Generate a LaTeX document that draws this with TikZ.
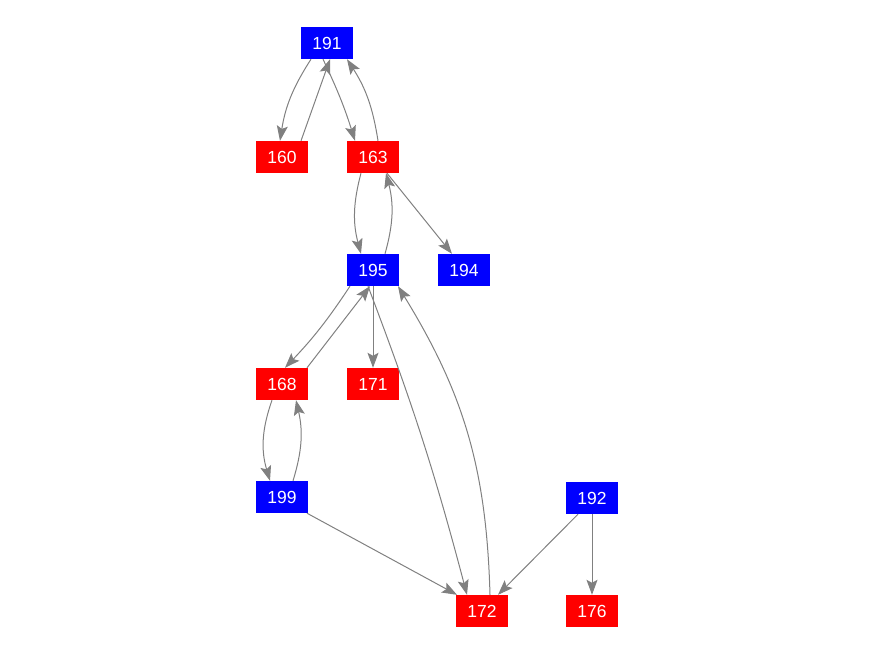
\documentclass[tikz,border=0pt]{standalone}
\usepackage{fontspec}
\setmainfont{Liberation Sans}
\usetikzlibrary{arrows.meta}
\definecolor{nblue}{RGB}{0,0,255}
\definecolor{nred}{RGB}{255,0,0}
\definecolor{egray}{RGB}{128,128,128}
\tikzset{
  vbox/.style={rectangle, minimum width=52pt, minimum height=32pt, inner sep=0pt, text=white, font=\fontsize{17.5}{17.5}\selectfont},
  bluebox/.style={vbox, fill=nblue},
  redbox/.style={vbox, fill=nred},
  edge/.style={draw=egray, line width=1pt, arrows={-Stealth[length=15pt, width=11pt, inset=3pt]}}
}
\begin{document}
\begin{tikzpicture}[x=1pt,y=-1pt]
\useasboundingbox (0,0) rectangle (876,656);
\node[bluebox] (n191) at (327,43) {191};
\node[redbox]  (n160) at (282,157) {160};
\node[redbox]  (n163) at (373,157) {163};
\node[bluebox] (n195) at (373,270) {195};
\node[bluebox] (n194) at (464,270) {194};
\node[redbox]  (n168) at (282,384) {168};
\node[redbox]  (n171) at (373,384) {171};
\node[bluebox] (n199) at (282,497) {199};
\node[bluebox] (n192) at (592,498) {192};
\node[redbox]  (n172) at (482,611) {172};
\node[redbox]  (n176) at (592,611) {176};

\draw[edge] ([xshift=-16pt]n191.south) to[bend right=12] ([xshift=-2pt]n160.north);
\draw[edge] ([xshift=19pt]n160.north) -- ([xshift=3pt]n191.south);
\draw[edge] ([xshift=-4pt]n191.south) to[bend left=4] ([xshift=-18pt]n163.north);
\draw[edge] ([xshift=5pt]n163.north) to[bend right=12] ([xshift=20pt]n191.south);
\draw[edge] ([xshift=-12pt]n163.south) to[bend right=15] ([xshift=-12pt]n195.north);
\draw[edge] ([xshift=12pt]n195.north) to[bend right=15] ([xshift=13pt]n163.south);
\draw[edge] ([xshift=14pt]n163.south) -- ([xshift=-12pt]n194.north);
\draw[edge] ([xshift=-23pt]n195.south) to[bend left=5] ([xshift=3pt]n168.north);
\draw[edge] ([xshift=25pt]n168.north) -- ([xshift=-3pt]n195.south);
\draw[edge] (n195.south) -- (n171.north);
\draw[edge] ([xshift=-5pt]n195.south) to[bend left=3] ([xshift=-15pt]n172.north);
\draw[edge] ([xshift=8pt]n172.north) to[bend right=15] ([xshift=25pt]n195.south);
\draw[edge] ([xshift=-10pt]n168.south) to[bend right=18] ([xshift=-12pt]n199.north);
\draw[edge] ([xshift=11pt]n199.north) to[bend right=15] ([xshift=14pt]n168.south);
\draw[edge] ([xshift=25pt]n199.south) -- ([xshift=-25pt]n172.north);
\draw[edge] ([xshift=-14pt]n192.south) -- ([xshift=16pt]n172.north);
\draw[edge] (n192.south) -- (n176.north);
\end{tikzpicture}
\end{document}
